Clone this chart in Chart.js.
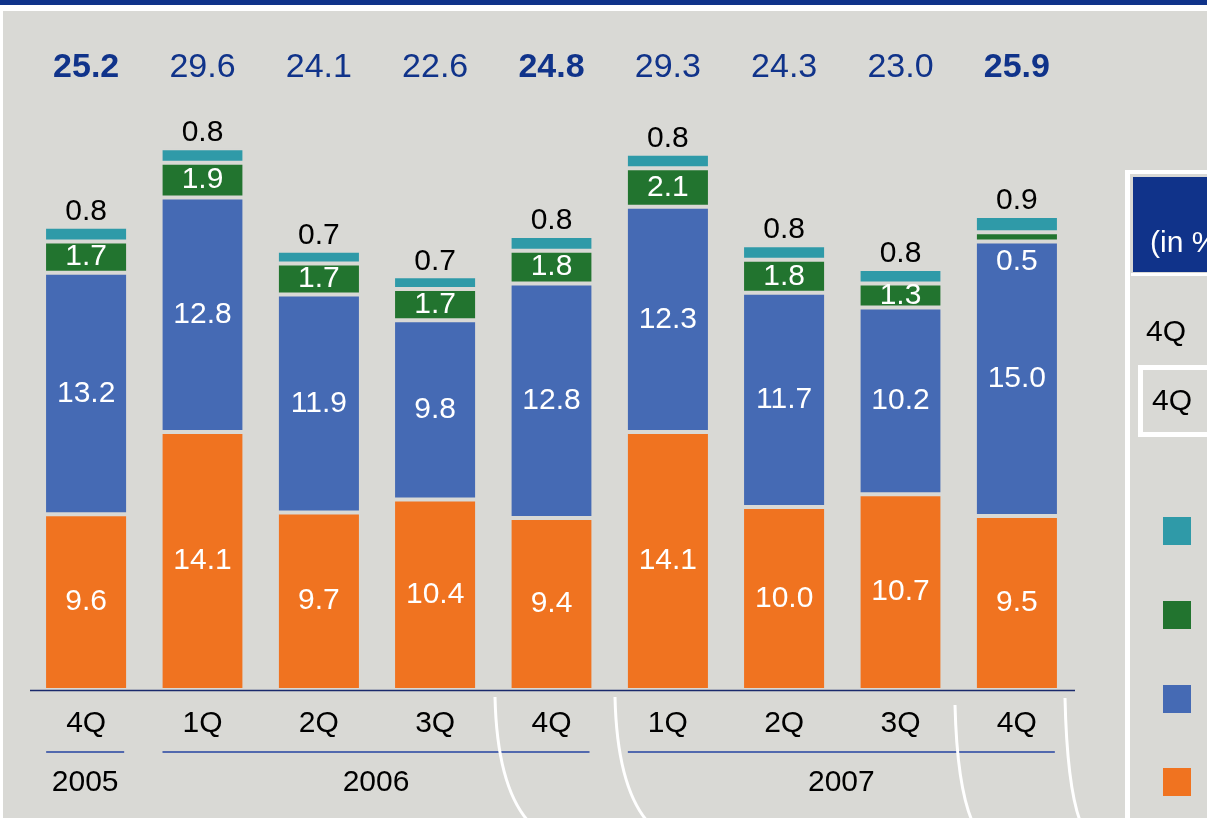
<!DOCTYPE html>
<html>
<head>
<meta charset="utf-8">
<script src="https://cdn.jsdelivr.net/npm/chart.js@4.4.1/dist/chart.umd.min.js"></script>
<style>
  html, body { margin: 0; padding: 0; background: #ffffff; }
  canvas { display: block; }
</style>
</head>
<body>
<canvas id="c" width="1207" height="821"></canvas>
<script>
// ---- data ----
const quarters = ['4Q', '1Q', '2Q', '3Q', '4Q', '1Q', '2Q', '3Q', '4Q'];
const years = ['2005', '2006', '2007'];
const yearSpans = [[0, 0], [1, 4], [5, 8]];
const orangeValues = [9.6, 14.1, 9.7, 10.4, 9.4, 14.1, 10.0, 10.7, 9.5];
const blueValues = [13.2, 12.8, 11.9, 9.8, 12.8, 12.3, 11.7, 10.2, 15.0];
const greenValues = [1.7, 1.9, 1.7, 1.7, 1.8, 2.1, 1.8, 1.3, 0.5];
const tealValues = [0.8, 0.8, 0.7, 0.7, 0.8, 0.8, 0.8, 0.8, 0.9];
const totals = ['25.2', '29.6', '24.1', '22.6', '24.8', '29.3', '24.3', '23.0', '25.9'];

const BG = '#d9d9d5';
const NAVY = '#10338a';
const FONT = '"Liberation Sans", Arial, sans-serif';
const colors = { orange: '#f07320', blue: '#456ab4', green: '#22742f', teal: '#2f9aa8' };

const labels = quarters.map((q, i) => q + ' ' + (i === 0 ? '2005' : i <= 4 ? '2006' : '2007'));

function ds(label, data, color) {
  return {
    label, data, backgroundColor: color,
    borderColor: BG, borderWidth: { top: 2, bottom: 2, left: 0, right: 0 },
    borderSkipped: false, stack: 's',
    barPercentage: 0.69, categoryPercentage: 1.0
  };
}

const decorPlugin = {
  id: 'decor',
  beforeDraw(chart) {
    const ctx = chart.ctx;
    ctx.save();
    ctx.fillStyle = '#ffffff';
    ctx.fillRect(0, 0, 1207, 821);
    ctx.fillStyle = BG;
    ctx.fillRect(3, 11, 1204, 807);
    ctx.fillStyle = NAVY;
    ctx.fillRect(0, 0, 1207, 5);
    ctx.restore();
  },
  afterDatasetsDraw(chart) {
    const ctx = chart.ctx;
    const x = chart.scales.x;
    const area = chart.chartArea;
    ctx.save();
    ctx.textAlign = 'center';
    ctx.textBaseline = 'middle';
    // segment labels
    chart.data.datasets.forEach((d, di) => {
      const meta = chart.getDatasetMeta(di);
      meta.data.forEach((bar, i) => {
        const v = d.data[i];
        const txt = v.toFixed(1);
        ctx.font = '30px ' + FONT;
        if (di === 3) {
          ctx.fillStyle = '#000000';
          ctx.fillText(txt, bar.x, bar.y - 15);
        } else {
          ctx.fillStyle = '#ffffff';
          let cy = (bar.y + bar.base) / 2;
          const h = bar.base - bar.y;
          if (h < 15) {
            // too thin: label goes inside the segment below
            cy = bar.base + 20;
          }
          ctx.fillText(txt, bar.x, cy);
        }
      });
    });
    // totals
    totals.forEach((t, i) => {
      const px = x.getPixelForValue(i);
      ctx.fillStyle = NAVY;
      ctx.font = (quarters[i] === '4Q' ? 'bold ' : '') + '34px ' + FONT;
      ctx.fillText(t, px, 68);
    });
    // baseline
    ctx.strokeStyle = '#1a2a6c';
    ctx.lineWidth = 1.5;
    ctx.beginPath();
    ctx.moveTo(30, area.bottom + 0.5);
    ctx.lineTo(1075, area.bottom + 0.5);
    ctx.stroke();
    // quarter labels
    ctx.fillStyle = '#000000';
    ctx.font = '30px ' + FONT;
    quarters.forEach((q, i) => ctx.fillText(q, x.getPixelForValue(i), 724));
    // year lines and labels
    yearSpans.forEach((s, k) => {
      const x0 = x.getPixelForValue(s[0]) - 40;
      const x1 = x.getPixelForValue(s[1]) + 38;
      ctx.strokeStyle = '#2443a0';
      ctx.lineWidth = 1.5;
      ctx.beginPath();
      ctx.moveTo(x0, 752);
      ctx.lineTo(x1, 752);
      ctx.stroke();
      ctx.fillStyle = '#000000';
      ctx.font = '30px ' + FONT;
      ctx.fillText(years[k], (x0 + x1) / 2, 783);
    });
    ctx.restore();
  },
  afterDraw(chart) {
    const ctx = chart.ctx;
    ctx.save();
    // white decorative curves
    ctx.strokeStyle = '#ffffff';
    ctx.lineWidth = 3;
    const curves = [
      [495, 697, 497, 785, 528, 821],
      [615, 697, 617, 785, 647, 821],
      [955, 705, 957, 785, 972, 821],
      [1065, 698, 1067, 785, 1080, 821]
    ];
    curves.forEach(c => {
      ctx.beginPath();
      ctx.moveTo(c[0], c[1]);
      ctx.quadraticCurveTo(c[2], c[3], c[4], c[5]);
      ctx.stroke();
    });
    // right panel
    ctx.fillStyle = '#ffffff';
    ctx.fillRect(1125, 170, 1207 - 1125, 4);
    ctx.fillRect(1125, 170, 5, 651);
    ctx.fillStyle = NAVY;
    ctx.fillRect(1133, 177, 1207 - 1133, 95);
    ctx.fillStyle = '#ffffff';
    ctx.fillRect(1131, 273, 1207 - 1131, 3);
    ctx.font = '30px ' + FONT;
    ctx.textAlign = 'left';
    ctx.textBaseline = 'middle';
    ctx.fillText('(in %', 1150, 244);
    ctx.fillStyle = '#000000';
    ctx.fillText('4Q', 1146, 333);
    ctx.strokeStyle = '#ffffff';
    ctx.lineWidth = 5;
    ctx.strokeRect(1140.5, 367.5, 90, 67);
    ctx.fillStyle = '#000000';
    ctx.fillText('4Q', 1152, 402);
    const sq = [[colors.teal, 517], [colors.green, 601], [colors.blue, 685], [colors.orange, 768]];
    sq.forEach(s => { ctx.fillStyle = s[0]; ctx.fillRect(1163, s[1], 28, 28); });
    ctx.restore();
  }
};

new Chart(document.getElementById('c'), {
  type: 'bar',
  data: {
    labels,
    datasets: [
      ds('Orange', orangeValues, colors.orange),
      ds('Blue', blueValues, colors.blue),
      ds('Green', greenValues, colors.green),
      ds('Teal', tealValues, colors.teal)
    ]
  },
  options: {
    responsive: false,
    animation: false,
    layout: { padding: { left: 28, right: 132, top: 31, bottom: 131 } },
    plugins: { legend: { display: false }, tooltip: { enabled: false } },
    scales: {
      x: { display: false, stacked: true },
      y: { display: false, stacked: true, min: 0, max: 36 }
    }
  },
  plugins: [decorPlugin]
});
</script>
</body>
</html>
